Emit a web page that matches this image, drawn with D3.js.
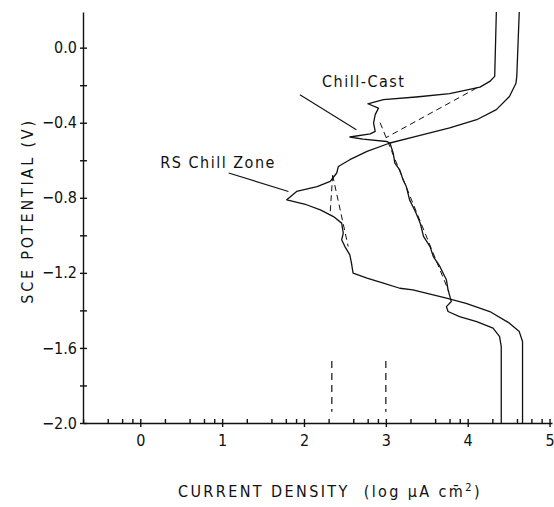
<!DOCTYPE html>
<html lang="en">
<head>
    <meta charset="UTF-8">
    <title>polarisation curves</title>
    <script src="https://d3js.org/d3.v7.min.js"></script>
    <style>
        body { margin: 0; background: #fff; }
        text { font-family: "Liberation Sans Narrow", "DejaVu Sans Condensed", sans-serif; fill: #111; }
    </style>
</head>
<body>
<div id="viz"></div>
<script>
    // tick values / labels
    var xMajor = [0, 1, 2, 3, 4, 5];
    var yTicks = [0, -0.2, -0.4, -0.6, -0.8, -1.0, -1.2, -1.4, -1.6, -1.8, -2.0];
    var yLabels = ["0.0", "", "\u22120.4", "", "\u22120.8", "", "\u22121.2", "", "\u22121.6", "", "\u22122.0"];

    // curves: [log i, E (V vs SCE)]
    var rsChillZone = [
        [4.63, 0.19], [4.60, -0.15], [4.59, -0.19], [4.51, -0.26], [4.35, -0.33], [4.11, -0.384],
        [3.78, -0.428], [3.37, -0.473], [3.05, -0.508], [2.77, -0.553], [2.56, -0.597],
        [2.42, -0.633], [2.40, -0.668], [2.32, -0.713], [2.16, -0.740], [1.91, -0.766],
        [1.79, -0.811], [2.03, -0.837], [2.20, -0.864], [2.36, -0.900], [2.46, -0.935],
        [2.48, -0.988], [2.46, -1.024], [2.50, -1.060], [2.56, -1.104], [2.58, -1.148],
        [2.60, -1.202], [2.77, -1.228], [2.97, -1.255], [3.17, -1.282], [3.33, -1.291],
        [3.74, -1.335], [3.98, -1.362], [4.27, -1.406], [4.51, -1.468], [4.63, -1.513],
        [4.67, -1.566], [4.67, -2.0]
    ];
    var chillCast = [
        [4.35, 0.19], [4.33, -0.153], [4.27, -0.180], [4.15, -0.210], [3.78, -0.245],
        [3.37, -0.263], [2.97, -0.277], [2.78, -0.299], [2.91, -0.322], [2.87, -0.357],
        [2.85, -0.402], [2.87, -0.446], [2.81, -0.459], [2.56, -0.476], [2.72, -0.487],
        [3.01, -0.500], [3.05, -0.508], [3.09, -0.562], [3.11, -0.615], [3.17, -0.651],
        [3.21, -0.704], [3.25, -0.740], [3.29, -0.811], [3.33, -0.846], [3.37, -0.882],
        [3.42, -0.935], [3.46, -1.006], [3.54, -1.060], [3.58, -1.113], [3.66, -1.166],
        [3.70, -1.202], [3.74, -1.237], [3.76, -1.291], [3.80, -1.353], [3.74, -1.380],
        [3.76, -1.406], [3.90, -1.433], [4.11, -1.460], [4.31, -1.495], [4.39, -1.540],
        [4.41, -1.593], [4.41, -2.0]
    ];

    // tafel extrapolations and i_corr markers
    var tafelLines = [
        [[4.11, -0.215], [3.00, -0.48]],
        [[2.93, -0.40], [3.77, -1.30]],
        [[2.35, -0.68], [2.32, -0.88]],
        [[2.35, -0.68], [2.54, -1.06]]
    ];
    var iCorr = [2.34, 3.00];
    var iCorrE = [-1.67, -1.94];

    // labels with leader lines
    var labels = [
        { text: "Chill-Cast", at: [2.22, -0.208], from: [1.95, -0.251], to: [2.64, -0.437] },
        { text: "RS Chill Zone", at: [0.244, -0.64], from: [1.08, -0.668], to: [1.81, -0.766] }
    ];

    var w = 554, h = 507;
    var x = d3.scaleLinear().domain([-0.7, 5.03]).range([83, 552]);
    var y = d3.scaleLinear().domain([0.19, -2.0]).range([12, 423]);

    var svg = d3.select("#viz").append("svg")
        .attr("width", w)
        .attr("height", h);

    // x axis
    var minor = [];
    for (var d = -1; d < 5; d++) {
        [2, 4, 6, 8].forEach(function(m){
            var v = d + Math.log10(m);
            if (v > -0.7 && v < 5.03) minor.push(v);
        });
    }
    var xAxisMinor = svg.append("g")
        .attr("transform", "translate(0," + y(-2) + ")")
        .call(d3.axisTop(x).tickValues(minor).tickSize(4).tickSizeOuter(0).tickFormat(""));
    xAxisMinor.select(".domain").remove();

    var xAxis = svg.append("g")
        .attr("transform", "translate(0," + y(-2) + ")")
        .call(d3.axisBottom(x).tickValues(xMajor).tickSizeOuter(0).tickFormat(d3.format("d")));
    xAxis.selectAll(".tick line").attr("y1", -4).attr("y2", 4);
    xAxis.selectAll(".tick text").attr("y", 12).attr("dy", "0.71em").style("font-size", "16px");

    // y axis
    var yAxis = svg.append("g")
        .attr("transform", "translate(" + x(-0.7) + ",0)")
        .call(d3.axisLeft(y).tickValues(yTicks).tickSizeOuter(0)
            .tickFormat(function(d, i){ return yLabels[i]; }));
    yAxis.selectAll(".tick line").attr("x1", -3).attr("x2", 4);
    yAxis.selectAll(".tick text").attr("x", -6).style("font-size", "16px");

    svg.selectAll(".domain, .tick line").attr("stroke", "#111").attr("stroke-width", 1.4);
    svg.selectAll(".tick text").attr("fill", "#111").style("font-family", "'Liberation Sans Narrow', 'DejaVu Sans Condensed', sans-serif");

    // axis titles
    svg.append("text")
        .attr("transform", "translate(33," + y(-0.87) + ") rotate(-90)")
        .attr("text-anchor", "middle")
        .style("font-size", "16px")
        .style("letter-spacing", "2.8px")
        .text("SCE POTENTIAL (V)");

    var xt = svg.append("text")
        .attr("x", 330)
        .attr("y", 497)
        .attr("text-anchor", "middle")
        .style("font-size", "16px")
        .style("letter-spacing", "2.4px")
        .attr("xml:space", "preserve")
        .text("CURRENT DENSITY  (log \u00b5A cm\u0304");
    xt.append("tspan").attr("dy", -6).style("font-size", "11px").text("2");
    xt.append("tspan").attr("dy", 6).text(")");

    // curves
    var line = d3.line()
        .x(function(d){ return x(d[0]); })
        .y(function(d){ return y(d[1]); });

    svg.selectAll("path.curve")
        .data([rsChillZone, chillCast])
        .enter().append("path")
        .attr("class", "curve")
        .attr("d", line)
        .attr("fill", "none")
        .attr("stroke", "#111")
        .attr("stroke-width", 1.3)
        .attr("stroke-linejoin", "round");

    svg.selectAll("path.tafel")
        .data(tafelLines)
        .enter().append("path")
        .attr("class", "tafel")
        .attr("d", line)
        .attr("fill", "none")
        .attr("stroke", "#111")
        .attr("stroke-width", 1)
        .attr("stroke-dasharray", "6,4");

    svg.selectAll("line.icorr")
        .data(iCorr)
        .enter().append("line")
        .attr("class", "icorr")
        .attr("x1", function(d){ return x(d); })
        .attr("x2", function(d){ return x(d); })
        .attr("y1", y(iCorrE[0]))
        .attr("y2", y(iCorrE[1]))
        .attr("stroke", "#111")
        .attr("stroke-width", 1.2)
        .attr("stroke-dasharray", "7,5");

    // annotations
    labels.forEach(function(l){
        svg.append("line")
            .attr("x1", x(l.from[0])).attr("y1", y(l.from[1]))
            .attr("x2", x(l.to[0])).attr("y2", y(l.to[1]))
            .attr("stroke", "#111")
            .attr("stroke-width", 1.1);
        svg.append("text")
            .attr("x", x(l.at[0]))
            .attr("y", y(l.at[1]))
            .style("font-size", "16px")
            .style("letter-spacing", "1.5px")
            .text(l.text);
    });
</script>
</body>
</html>
